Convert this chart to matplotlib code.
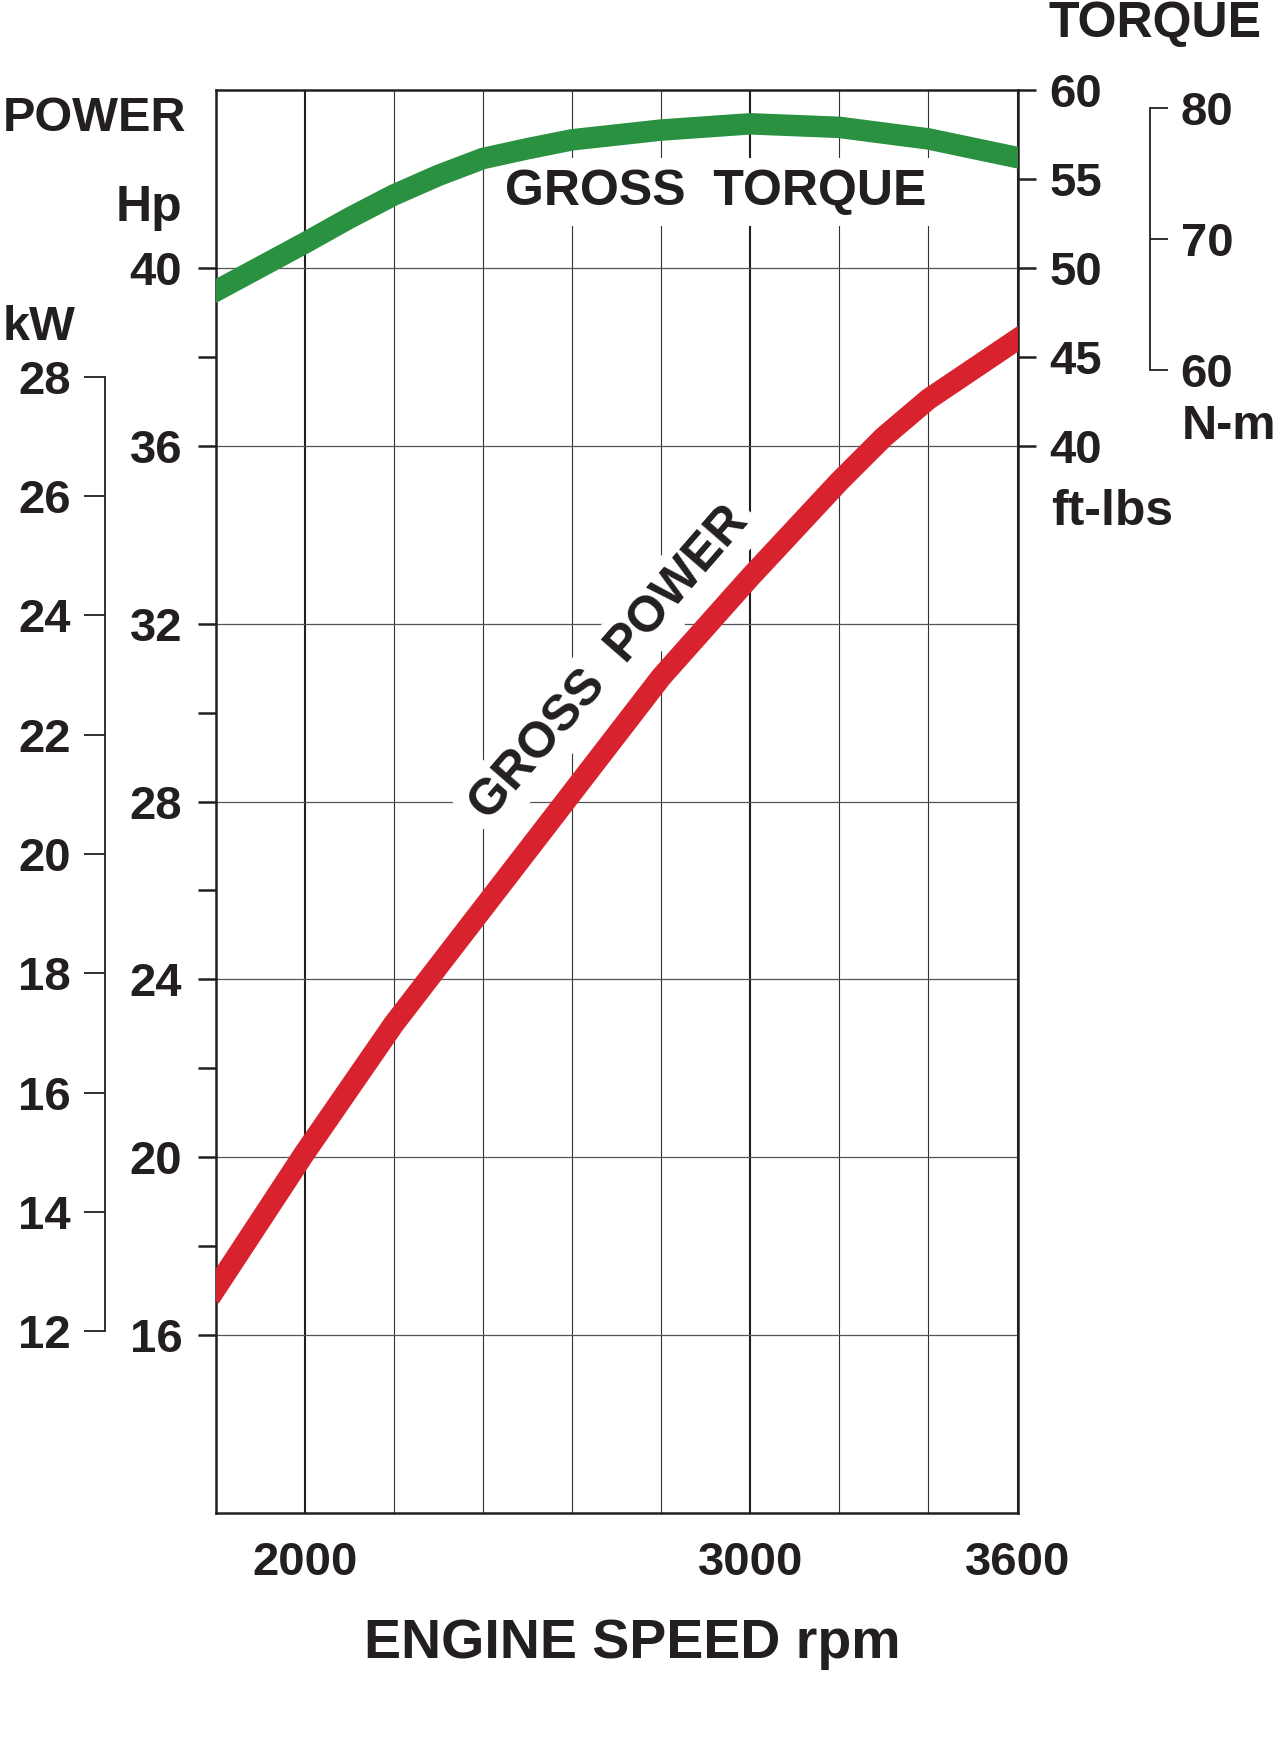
import matplotlib
matplotlib.use("Agg")
import matplotlib.pyplot as plt
from matplotlib.ticker import FixedLocator

plt.rcParams['font.family'] = ['Liberation Sans', 'DejaVu Sans']
plt.rcParams['font.weight'] = 'bold'

# Curves
torque_rpm = [1800, 2000, 2100, 2200, 2300, 2400, 2500, 2600, 2800, 3000, 3200, 3400, 3600]
torque_ftlb = [48.7, 51.4, 52.8, 54.1, 55.2, 56.15, 56.7, 57.2, 57.75, 58.1, 57.9, 57.25, 56.2]
power_rpm = [1800, 2000, 2200, 2400, 2600, 2800, 3000, 3200, 3300, 3400, 3600]
power_hp = [17.05, 20.1, 23.0, 25.6, 28.2, 30.8, 33.05, 35.2, 36.2, 37.05, 38.4]

# Axis scales
rpm_labels = [2000, 3000, 3600]
rpm_minor = [1800, 2200, 2400, 2600, 2800, 3200, 3400]
hp_labels = [16, 20, 24, 28, 32, 36, 40]
hp_minor = [18, 22, 26, 30, 38]
ftlb_labels = [40, 45, 50, 55, 60]
kw_labels = [12, 14, 16, 18, 20, 22, 24, 26, 28]
nm_labels = [60, 70, 80]

HP_TO_KW = 0.7457
FTLB_TO_NM = 1.35582

ink = "#231f20"
green = "#2a9140"
red = "#d8232f"

fig = plt.figure(figsize=(12.8, 17.48), dpi=100)
ax = fig.add_axes([0.1685, 0.1344, 0.6265, 0.8141])

ax.set_xlim(1800, 3600)
ax.set_ylim(12, 44)

# x axis
ax.xaxis.set_major_locator(FixedLocator(rpm_labels))
ax.xaxis.set_minor_locator(FixedLocator(rpm_minor))
ax.tick_params(axis='x', which='both', length=0, pad=20, labelsize=34, colors=ink)
ax.grid(which='major', axis='x', color=ink, lw=1.5)
ax.grid(which='minor', axis='x', color="#333333", lw=0.8)

# Hp axis (left)
ax.yaxis.set_major_locator(FixedLocator(hp_labels))
ax.yaxis.set_minor_locator(FixedLocator(hp_minor))
ax.tick_params(axis='y', which='both', direction='out', length=13, width=1.8,
               pad=11, labelsize=34, colors=ink)
ax.grid(which='major', axis='y', color="#555555", lw=0.9)
ax.set_axisbelow(True)
for s in ax.spines.values():
    s.set_linewidth(1.8)
    s.set_color(ink)

ax.plot(power_rpm, power_hp, color=red, lw=15.5, solid_capstyle='projecting',
        solid_joinstyle='round', zorder=3)

ax.text(2683, 31.1, "GROSS  POWER", rotation=49, rotation_mode='anchor',
        ha='center', va='center', fontsize=36, color=ink, zorder=2,
        bbox=dict(facecolor='white', edgecolor='none', pad=6))
ax.text(2923, 41.41, "GROSS  TORQUE", ha='center', va='baseline',
        fontsize=36, color=ink, zorder=2,
        bbox=dict(facecolor='white', edgecolor='none', pad=8))

# ft-lbs axis (right)
ax_ft = ax.twinx()
ax_ft.set_ylim(2.5 * 12 - 50, 2.5 * 44 - 50)
ax_ft.set_yticks(ftlb_labels)
ax_ft.tick_params(axis='y', direction='out', length=13, width=1.8, pad=10,
                  labelsize=34, colors=ink)
for s in ax_ft.spines.values():
    s.set_visible(False)
ax_ft.plot(torque_rpm, torque_ftlb, color=green, lw=15.5,
           solid_capstyle='projecting', solid_joinstyle='round')

# kW bracket axis
ax_kw = ax.twinx()
ax_kw.set_ylim(12 * HP_TO_KW, 44 * HP_TO_KW)
ax_kw.yaxis.set_ticks_position('left')
for name, s in ax_kw.spines.items():
    s.set_visible(name == 'left')
ax_kw.spines['left'].set_position(('axes', -0.1377))
ax_kw.spines['left'].set_bounds(12, 28)
ax_kw.spines['left'].set_linewidth(1.3)
ax_kw.spines['left'].set_color(ink)
ax_kw.set_yticks(kw_labels)
ax_kw.tick_params(axis='y', direction='out', length=15, width=1.3, pad=10,
                  labelsize=34, colors=ink)

# N-m bracket axis
ax_nm = ax.twinx()
ax_nm.set_ylim((2.5 * 12 - 50) * FTLB_TO_NM, (2.5 * 44 - 50) * FTLB_TO_NM)
for name, s in ax_nm.spines.items():
    s.set_visible(name == 'right')
ax_nm.spines['right'].set_position(('axes', 1.1653))
ax_nm.spines['right'].set_bounds(60, 80)
ax_nm.spines['right'].set_linewidth(1.3)
ax_nm.spines['right'].set_color(ink)
ax_nm.set_yticks(nm_labels)
ax_nm.tick_params(axis='y', direction='out', length=13, width=1.3, pad=9,
                  labelsize=34, colors=ink)

# Unit labels
fig.text(0.002, 0.9253, "POWER", ha='left', va='baseline', fontsize=35, color=ink)
fig.text(0.1422, 0.8737, "Hp", ha='right', va='baseline', fontsize=36, color=ink)
fig.text(0.002, 0.8055, "kW", ha='left', va='baseline', fontsize=35, color=ink)
fig.text(0.819, 0.979, "TORQUE", ha='left', va='baseline', fontsize=36, color=ink)
fig.text(0.821, 0.6997, "ft-lbs", ha='left', va='baseline', fontsize=36, color=ink)
fig.text(0.9234, 0.7489, "N-m", ha='left', va='baseline', fontsize=35, color=ink)
fig.text(0.494, 0.0515, "ENGINE SPEED rpm", ha='center', va='baseline',
         fontsize=40, color=ink)

fig.savefig("out.png", dpi=100, facecolor='white')
